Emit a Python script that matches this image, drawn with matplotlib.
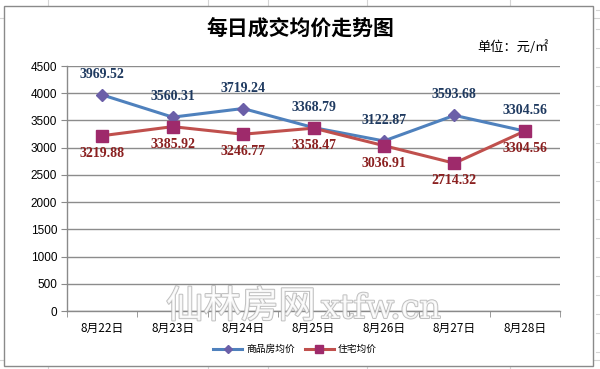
import matplotlib.pyplot as plt
import matplotlib.patheffects as pe
from matplotlib.patches import Rectangle
from matplotlib.lines import Line2D

plt.rcParams['font.family'] = ['Noto Sans CJK SC', 'DejaVu Sans']

# 数据
dates = ['8月22日', '8月23日', '8月24日', '8月25日', '8月26日', '8月27日', '8月28日']
shangpin = [3969.52, 3560.31, 3719.24, 3368.79, 3122.87, 3593.68, 3304.56]
zhuzhai = [3219.88, 3385.92, 3246.77, 3358.47, 3036.91, 2714.32, 3304.56]
yticks = [0, 500, 1000, 1500, 2000, 2500, 3000, 3500, 4000, 4500]

W, H = 600, 369
fig = plt.figure(figsize=(6, 3.69), dpi=100)
fig.patch.set_facecolor('white')

# Excel 背景网格
for x in [48, 208, 268, 367, 510]:
    fig.add_artist(Line2D([x / W, x / W], [0, 1], color='#d4d4d4', lw=0.8, zorder=-3))
for y in [18, 360]:
    fig.add_artist(Line2D([0, 1], [1 - y / H, 1 - y / H], color='#d4d4d4', lw=0.8, zorder=-3))
for y in range(10, 369, 19):
    fig.add_artist(Line2D([596 / W, 1], [1 - y / H, 1 - y / H], color='#d4d4d4', lw=0.8, zorder=-3))

# 图表区
fig.add_artist(Rectangle((4 / W, 1 - 366 / H), 589 / W, 360 / H, facecolor='white',
                         edgecolor='#8a8a8a', lw=1.0, transform=fig.transFigure, zorder=-2))

ax = fig.add_axes([67 / W, 1 - 311 / H, 493 / W, 245 / H])
ax.set_facecolor('none')
x = list(range(len(dates)))

ax.plot(x, shangpin, color='#4f81bd', lw=2.2, marker='D', markersize=6,
        markerfacecolor='#6b5fa8', markeredgecolor='#6b5fa8', label='商品房均价', zorder=3)
ax.plot(x, zhuzhai, color='#c0504d', lw=2.2, marker='s', markersize=8,
        markerfacecolor='#9e2a6b', markeredgecolor='#9e2a6b', label='住宅均价', zorder=3)

for i in x:
    ax.annotate(f'{shangpin[i]:.2f}', (i, shangpin[i]), xytext=(0, 10), textcoords='offset points',
                ha='center', va='bottom', fontsize=10, fontweight='bold', color='#1f3a60',
                family='Liberation Serif')
    ax.annotate(f'{zhuzhai[i]:.2f}', (i, zhuzhai[i]), xytext=(0, -8), textcoords='offset points',
                ha='center', va='top', fontsize=10, fontweight='bold', color='#8b2020',
                family='Liberation Serif')

ax.set_xlim(-0.5, 6.5)
ax.set_ylim(0, 4500)
ax.set_yticks(yticks)
ax.set_yticklabels([str(v) for v in yticks], family='Liberation Sans', fontsize=8.5)
ax.set_xticks(x)
ax.set_xticklabels(dates, fontsize=8.5)
ax.set_xticks([i - 0.5 for i in range(len(dates) + 1)], minor=True)
ax.tick_params(axis='x', which='major', length=0, pad=8)
ax.tick_params(axis='x', which='minor', length=4, color='#8a8a8a')
ax.tick_params(axis='y', length=4, color='#8a8a8a', pad=3)
ax.grid(axis='y', color='#8c8c8c', lw=1.0)
ax.set_axisbelow(True)
for s in ['top', 'right']:
    ax.spines[s].set_visible(False)
for s in ['left', 'bottom']:
    ax.spines[s].set_color('#8a8a8a')
    ax.spines[s].set_linewidth(1.0)

fig.text(300 / W, 1 - 28 / H, '每日成交均价走势图', ha='center', va='center',
         fontsize=15, fontweight='bold')
fig.text(513 / W, 1 - 47 / H, '单位：元/㎡', ha='center', va='center', fontsize=9.5)

fig.legend(loc='center', bbox_to_anchor=(295 / W, 1 - 349 / H), ncol=2, frameon=False,
           fontsize=7, handlelength=3, columnspacing=1.0, handletextpad=0.4, markerscale=0.7)

# 水印
wm = [pe.withStroke(linewidth=1.4, foreground='#b4b4b4')]
fig.text(241 / W, 1 - 307 / H, '仙林房网', ha='center', va='center', fontsize=27,
         color='white', alpha=0.85, path_effects=wm, zorder=10)
fig.text(381 / W, 1 - 309 / H, 'xtfw.cn', ha='center', va='center', fontsize=24,
         color='white', alpha=0.85, family='DejaVu Serif', path_effects=wm, zorder=10)

fig.savefig('out.png', dpi=100)
